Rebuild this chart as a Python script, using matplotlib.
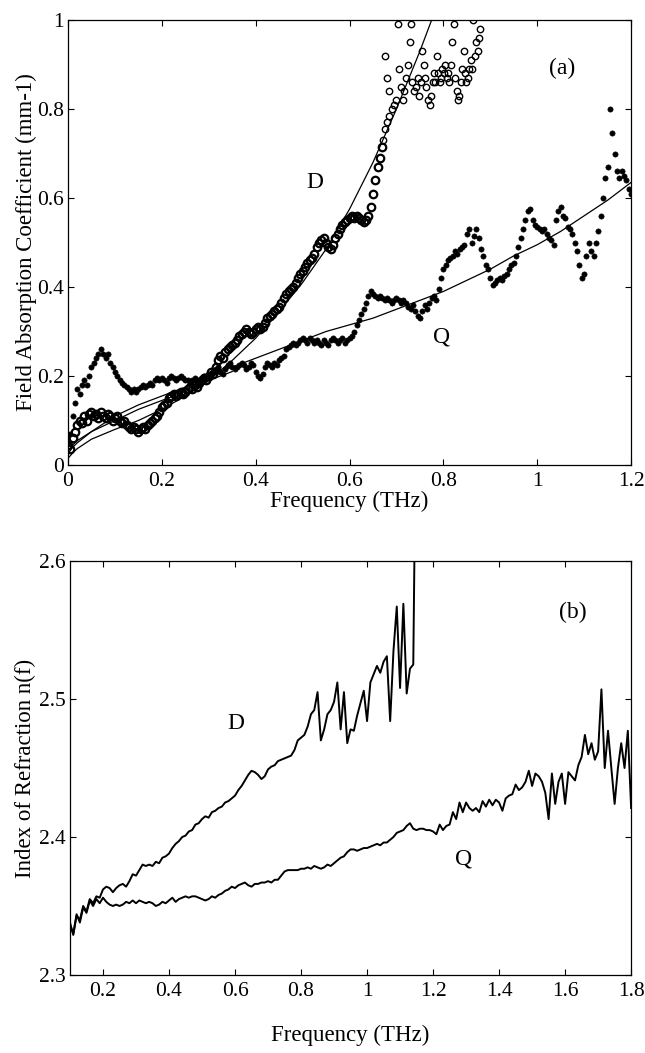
import numpy as np
import matplotlib.pyplot as plt

plt.rcParams['font.family'] = ['Liberation Serif', 'DejaVu Serif']
plt.rcParams['font.size'] = 15

# ---- panel (a): field absorption coefficient ----
# D sample, regular grid 0 .. 0.67 THz (step 0.005)
d_freq = np.round(np.arange(0, 0.6701, 0.005), 3)
d_alpha = [
    0.045, 0.035, 0.06, 0.075, 0.09, 0.10, 0.095, 0.11, 0.10, 0.115,
    0.12, 0.11, 0.115, 0.105, 0.12, 0.11, 0.105, 0.115, 0.11, 0.10,
    0.105, 0.11, 0.10, 0.095, 0.10, 0.09, 0.085, 0.08, 0.085, 0.08,
    0.075, 0.08, 0.085, 0.08, 0.09, 0.095, 0.10, 0.105, 0.11, 0.12,
    0.13, 0.135, 0.14, 0.15, 0.155, 0.16, 0.155, 0.16, 0.165, 0.16,
    0.165, 0.17, 0.175, 0.17, 0.18, 0.175, 0.185, 0.19, 0.195, 0.19,
    0.20, 0.21, 0.205, 0.22, 0.235, 0.245, 0.24, 0.255, 0.26, 0.265,
    0.27, 0.275, 0.28, 0.29, 0.295, 0.30, 0.305, 0.30, 0.295, 0.30,
    0.305, 0.31, 0.305, 0.31, 0.32, 0.33, 0.335, 0.34, 0.345, 0.35,
    0.355, 0.365, 0.375, 0.385, 0.39, 0.395, 0.40, 0.41, 0.42, 0.43,
    0.435, 0.445, 0.455, 0.46, 0.465, 0.475, 0.49, 0.50, 0.505, 0.51,
    0.50, 0.49, 0.485, 0.495, 0.51, 0.52, 0.53, 0.54, 0.545, 0.55,
    0.555, 0.56, 0.555, 0.56, 0.555, 0.55, 0.545, 0.55, 0.56, 0.58,
    0.61, 0.64, 0.67, 0.69, 0.715,
]
# D sample, scattered high-frequency part
d_freq_hi = [0.672, 0.676, 0.676, 0.680, 0.680, 0.684, 0.685, 0.690, 0.695, 0.700,
             0.704, 0.706, 0.710, 0.713, 0.716, 0.720, 0.724, 0.728, 0.731, 0.734,
             0.738, 0.742, 0.745, 0.748, 0.752, 0.755, 0.758, 0.761, 0.764, 0.768,
             0.771, 0.774, 0.777, 0.780, 0.783, 0.786, 0.789, 0.792, 0.795, 0.798,
             0.801, 0.804, 0.807, 0.810, 0.813, 0.816, 0.819, 0.822, 0.825, 0.828,
             0.831, 0.834, 0.837, 0.840, 0.843, 0.846, 0.849, 0.852, 0.855, 0.858,
             0.861, 0.864, 0.867, 0.870, 0.873, 0.876, 0.879]
d_alpha_hi = [0.73, 0.755, 0.92, 0.77, 0.87, 0.84, 0.785, 0.80, 0.81, 0.82,
              0.99, 0.89, 0.85, 0.82, 0.84, 0.87, 0.90, 0.95, 0.99, 0.86,
              0.84, 0.85, 0.87, 0.83, 0.86, 0.93, 0.90, 0.87, 0.85, 0.82,
              0.81, 0.83, 0.86, 0.88, 0.86, 0.92, 0.88, 0.86, 0.87, 0.89,
              0.88, 0.90, 0.87, 0.88, 0.86, 0.90, 0.95, 0.99, 0.87, 0.84,
              0.82, 0.83, 0.86, 0.89, 0.93, 0.88, 0.86, 0.87, 0.89, 0.91,
              0.89, 1.00, 0.92, 0.95, 0.93, 0.96, 0.98]

# Q sample, 0 .. 1.2 THz (step 0.005)
q_freq = np.round(np.arange(0, 1.2001, 0.005), 3)
q_alpha = [
    0.05, 0.07, 0.11, 0.14, 0.17, 0.16, 0.18, 0.19, 0.18, 0.20,
    0.22, 0.23, 0.24, 0.25, 0.26, 0.25, 0.24, 0.25, 0.23, 0.22,
    0.21, 0.20, 0.19, 0.185, 0.18, 0.175, 0.17, 0.165, 0.17, 0.165,
    0.17, 0.175, 0.18, 0.175, 0.18, 0.185, 0.18, 0.19, 0.195, 0.19,
    0.195, 0.19, 0.185, 0.195, 0.20, 0.195, 0.19, 0.195, 0.20, 0.195,
    0.19, 0.19, 0.185, 0.19, 0.195, 0.19, 0.185, 0.19, 0.20, 0.195,
    0.20, 0.205, 0.21, 0.215, 0.22, 0.21, 0.205, 0.215, 0.225, 0.23,
    0.22, 0.215, 0.22, 0.225, 0.23, 0.225, 0.215, 0.22, 0.23, 0.225,
    0.21, 0.20, 0.195, 0.205, 0.22, 0.23, 0.225, 0.22, 0.23, 0.225,
    0.235, 0.24, 0.245, 0.26, 0.265, 0.27, 0.275, 0.27, 0.275, 0.28,
    0.285, 0.28, 0.275, 0.285, 0.28, 0.275, 0.28, 0.275, 0.27, 0.28,
    0.275, 0.27, 0.28, 0.285, 0.28, 0.275, 0.28, 0.285, 0.275, 0.28,
    0.285, 0.29, 0.30, 0.315, 0.325, 0.34, 0.35, 0.365, 0.38, 0.39,
    0.385, 0.38, 0.375, 0.38, 0.375, 0.37, 0.375, 0.37, 0.365, 0.37,
    0.375, 0.37, 0.365, 0.37, 0.365, 0.355, 0.35, 0.36, 0.345, 0.335,
    0.33, 0.345, 0.36, 0.35, 0.365, 0.375, 0.38, 0.37, 0.395, 0.42,
    0.44, 0.45, 0.46, 0.465, 0.47, 0.48, 0.475, 0.485, 0.49, 0.495,
    0.52, 0.53, 0.50, 0.515, 0.53, 0.51, 0.485, 0.47, 0.45, 0.44,
    0.42, 0.405, 0.41, 0.415, 0.42, 0.415, 0.425, 0.43, 0.44, 0.45,
    0.455, 0.47, 0.49, 0.51, 0.53, 0.55, 0.57, 0.575, 0.55, 0.54,
    0.535, 0.53, 0.525, 0.53, 0.52, 0.51, 0.505, 0.495, 0.55, 0.57,
    0.58, 0.56, 0.555, 0.535, 0.53, 0.52, 0.50, 0.48, 0.45, 0.42,
    0.43, 0.47, 0.50, 0.48, 0.47, 0.50, 0.525, 0.56, 0.60, 0.645,
    0.67, 0.80, 0.745, 0.70, 0.66, 0.645, 0.66, 0.65, 0.64, 0.62,
    0.61,
]

# smooth fit curves
fit_q_freq = [0, 0.01, 0.02, 0.05, 0.1, 0.15, 0.2, 0.25, 0.3, 0.35, 0.4, 0.45, 0.5, 0.55,
              0.6, 0.65, 0.7, 0.75, 0.8, 0.85, 0.9, 0.95, 1.0, 1.05, 1.1, 1.15, 1.2]
fit_q_alpha = [0.025, 0.04, 0.05, 0.075, 0.11, 0.135, 0.155, 0.175, 0.20, 0.22, 0.24, 0.26,
               0.28, 0.30, 0.315, 0.33, 0.35, 0.37, 0.39, 0.415, 0.44, 0.47, 0.495, 0.525,
               0.56, 0.595, 0.635]
fit_d_freq = [0, 0.01, 0.02, 0.05, 0.1, 0.15, 0.2, 0.25, 0.3, 0.35, 0.4, 0.45, 0.5, 0.55,
              0.6, 0.65, 0.7, 0.75, 0.8]
fit_d_alpha = [0.015, 0.027, 0.037, 0.058, 0.08, 0.10, 0.125, 0.155, 0.19, 0.235, 0.285,
               0.345, 0.41, 0.485, 0.575, 0.68, 0.80, 0.93, 1.07]
fit_m_freq = [0, 0.01, 0.02, 0.05, 0.1, 0.15, 0.2, 0.25, 0.3, 0.35]
fit_m_alpha = [0.03, 0.045, 0.055, 0.075, 0.10, 0.125, 0.145, 0.165, 0.19, 0.21]

# ---- panel (b): index of refraction ----
nd_freq = np.round(np.arange(0.10, 1.1501, 0.01), 2)
nd_index = [
    2.338, 2.329, 2.343, 2.340, 2.350, 2.346, 2.355, 2.352, 2.357, 2.356,
    2.362, 2.364, 2.363, 2.360, 2.363, 2.365, 2.366, 2.364, 2.368, 2.373,
    2.372, 2.376, 2.380, 2.379, 2.380, 2.379, 2.382, 2.381, 2.385, 2.386,
    2.388, 2.392, 2.395, 2.397, 2.400, 2.401, 2.404, 2.405, 2.409, 2.410,
    2.413, 2.415, 2.414, 2.418, 2.419, 2.421, 2.422, 2.425, 2.426, 2.428,
    2.430, 2.434, 2.437, 2.441, 2.445, 2.448, 2.447, 2.445, 2.442, 2.444,
    2.449, 2.451, 2.452, 2.455, 2.456, 2.457, 2.458, 2.459, 2.463, 2.470,
    2.472, 2.474, 2.480, 2.489, 2.492, 2.505, 2.470, 2.478, 2.489, 2.492,
    2.498, 2.512, 2.478, 2.505, 2.468, 2.478, 2.477, 2.488, 2.497, 2.506,
    2.484, 2.512, 2.518, 2.524, 2.519, 2.527, 2.531, 2.484, 2.535, 2.567,
    2.508, 2.569, 2.504, 2.522, 2.525, 2.75,
]
nq_freq = np.round(np.arange(0.10, 1.8001, 0.01), 2)
nq_index = [
    2.336, 2.330, 2.344, 2.338, 2.349, 2.345, 2.354, 2.350, 2.355, 2.352,
    2.356, 2.353, 2.351, 2.350, 2.351, 2.350, 2.351, 2.353, 2.352, 2.354,
    2.352, 2.354, 2.353, 2.352, 2.353, 2.352, 2.350, 2.351, 2.353, 2.352,
    2.354, 2.356, 2.353, 2.355, 2.356, 2.357, 2.356, 2.357, 2.357, 2.356,
    2.355, 2.354, 2.355, 2.357, 2.356, 2.358, 2.359, 2.361, 2.362, 2.364,
    2.363, 2.365, 2.366, 2.367, 2.365, 2.364, 2.366, 2.366, 2.367, 2.367,
    2.368, 2.367, 2.369, 2.369, 2.372, 2.375, 2.376, 2.376, 2.376, 2.376,
    2.377, 2.377, 2.378, 2.377, 2.379, 2.378, 2.377, 2.378, 2.380, 2.379,
    2.381, 2.383, 2.385, 2.386, 2.389, 2.391, 2.391, 2.390, 2.391, 2.392,
    2.392, 2.393, 2.394, 2.395, 2.394, 2.396, 2.396, 2.398, 2.400, 2.403,
    2.404, 2.405, 2.408, 2.410, 2.406, 2.405, 2.406, 2.406, 2.405, 2.405,
    2.404, 2.402, 2.409, 2.405, 2.408, 2.409, 2.418, 2.413, 2.425, 2.418,
    2.425, 2.421, 2.419, 2.421, 2.418, 2.426, 2.422, 2.427, 2.423, 2.427,
    2.425, 2.419, 2.428, 2.430, 2.431, 2.438, 2.434, 2.436, 2.440, 2.448,
    2.437, 2.446, 2.444, 2.440, 2.432, 2.413, 2.446, 2.424, 2.440, 2.446,
    2.424, 2.447, 2.444, 2.441, 2.452, 2.458, 2.474, 2.460, 2.468, 2.456,
    2.462, 2.507, 2.450, 2.477, 2.450, 2.424, 2.450, 2.468, 2.450, 2.477,
    2.421,
]

a_xticks = [0, 0.2, 0.4, 0.6, 0.8, 1.0, 1.2]
a_xlabels = ['0', '0.2', '0.4', '0.6', '0.8', '1', '1.2']
a_yticks = [0, 0.2, 0.4, 0.6, 0.8, 1.0]
a_ylabels = ['0', '0.2', '0.4', '0.6', '0.8', '1']
b_xticks = [0.2, 0.4, 0.6, 0.8, 1.0, 1.2, 1.4, 1.6, 1.8]
b_xlabels = ['0.2', '0.4', '0.6', '0.8', '1', '1.2', '1.4', '1.6', '1.8']
b_yticks = [2.3, 2.4, 2.5, 2.6]
b_ylabels = ['2.3', '2.4', '2.5', '2.6']

fig = plt.figure(figsize=(6.45, 10.53), dpi=100)
ax1 = fig.add_axes([0.1054, 0.5584, 0.873, 0.4226])
ax2 = fig.add_axes([0.1085, 0.0741, 0.870, 0.3931])

# panel (a)
ax1.plot(d_freq, d_alpha, 'o', ms=5.4, mfc='none', mec='black', mew=1.6)
ax1.plot(d_freq_hi, d_alpha_hi, 'o', ms=4.6, mfc='none', mec='black', mew=1.0)
ax1.plot(q_freq, q_alpha, 'o', ms=3.8, mfc='black', mec='black', mew=0.4)
ax1.plot(fit_q_freq, fit_q_alpha, '-', color='black', lw=0.9)
ax1.plot(fit_d_freq, fit_d_alpha, '-', color='black', lw=0.9)
ax1.plot(fit_m_freq, fit_m_alpha, '-', color='black', lw=0.9)
ax1.set_xlim(0, 1.2)
ax1.set_ylim(0, 1)
ax1.set_xticks(a_xticks, a_xlabels)
ax1.set_yticks(a_yticks, a_ylabels)
ax1.set_xlabel('Frequency (THz)', fontsize=16.5, labelpad=0)
ax1.set_ylabel('Field Absorption Coefficient (mm-1)', fontsize=16.5, labelpad=0)
ax1.text(0.527, 0.634, 'D', fontsize=17, ha='center', va='center')
ax1.text(0.797, 0.288, 'Q', fontsize=17, ha='center', va='center')
ax1.text(1.053, 0.892, '(a)', fontsize=17, ha='center', va='center')

# panel (b)
ax2.plot(nd_freq, nd_index, '-', color='black', lw=1.4)
ax2.plot(nq_freq, nq_index, '-', color='black', lw=1.4)
ax2.set_xlim(0.1, 1.8)
ax2.set_ylim(2.3, 2.6)
ax2.set_xticks(b_xticks, b_xlabels)
ax2.set_yticks(b_yticks, b_ylabels)
ax2.set_xlabel('Frequency (THz)', fontsize=16.5, labelpad=17)
ax2.set_ylabel('Index of Refraction n(f)', fontsize=16.5, labelpad=2)
ax2.text(0.604, 2.482, 'D', fontsize=17, ha='center', va='center')
ax2.text(1.293, 2.384, 'Q', fontsize=17, ha='center', va='center')
ax2.text(1.624, 2.563, '(b)', fontsize=17, ha='center', va='center')

for ax in (ax1, ax2):
    ax.tick_params(direction='in', top=True, right=True, length=4, width=0.8,
                   labelsize=15.5, pad=3)
    ax.tick_params(axis='x', pad=5)
    for s in ax.spines.values():
        s.set_linewidth(0.9)

fig.savefig('out.png', dpi=100)
